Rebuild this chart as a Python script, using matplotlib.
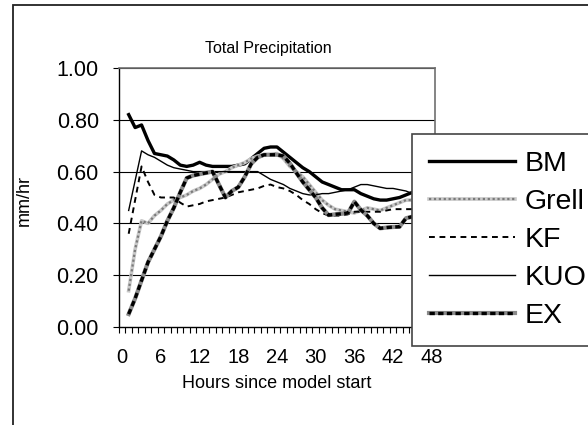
import numpy as np
import matplotlib
matplotlib.use('Agg')
import matplotlib.pyplot as plt
from matplotlib.patches import Rectangle
from matplotlib.legend_handler import HandlerTuple
from matplotlib.ticker import FixedLocator

plt.rcParams['font.family'] = ['Liberation Sans', 'DejaVu Sans']

# hourly model output, hours 1..48
hours = np.arange(1, 49)

bm = [0.82, 0.77, 0.78, 0.72, 0.67, 0.665, 0.66, 0.645, 0.625, 0.62,
      0.625, 0.636, 0.625, 0.62, 0.62, 0.62, 0.62, 0.625, 0.63, 0.65,
      0.67, 0.69, 0.695, 0.695, 0.675, 0.655, 0.635, 0.615, 0.60, 0.58,
      0.56, 0.55, 0.54, 0.53, 0.53, 0.53, 0.515, 0.505, 0.495, 0.49,
      0.49, 0.495, 0.50, 0.51, 0.52, 0.52, 0.52, 0.52]

grell = [0.14, 0.30, 0.41, 0.40, 0.43, 0.45, 0.475, 0.49, 0.50, 0.51,
         0.525, 0.535, 0.55, 0.57, 0.59, 0.60, 0.615, 0.625, 0.635, 0.65,
         0.66, 0.665, 0.665, 0.67, 0.65, 0.62, 0.60, 0.58, 0.55, 0.52,
         0.49, 0.47, 0.455, 0.45, 0.445, 0.44, 0.45, 0.46, 0.455, 0.45,
         0.46, 0.47, 0.48, 0.49, 0.49, 0.49, 0.49, 0.49]

kf = [0.36, 0.49, 0.62, 0.56, 0.51, 0.50, 0.50, 0.50, 0.48, 0.465,
      0.47, 0.475, 0.485, 0.49, 0.495, 0.50, 0.51, 0.52, 0.525, 0.53,
      0.535, 0.545, 0.55, 0.54, 0.535, 0.525, 0.51, 0.49, 0.475, 0.455,
      0.44, 0.43, 0.43, 0.43, 0.435, 0.445, 0.445, 0.445, 0.445, 0.445,
      0.45, 0.455, 0.455, 0.455, 0.455, 0.455, 0.455, 0.455]

kuo = [0.45, 0.565, 0.68, 0.665, 0.655, 0.64, 0.625, 0.615, 0.61, 0.605,
       0.60, 0.60, 0.60, 0.60, 0.60, 0.60, 0.60, 0.60, 0.60, 0.60,
       0.60, 0.585, 0.57, 0.56, 0.55, 0.535, 0.525, 0.515, 0.51, 0.51,
       0.515, 0.515, 0.52, 0.525, 0.53, 0.54, 0.55, 0.55, 0.545, 0.54,
       0.535, 0.535, 0.53, 0.525, 0.515, 0.51, 0.51, 0.51]

ex = [0.05, 0.11, 0.18, 0.25, 0.30, 0.35, 0.41, 0.46, 0.52, 0.575,
      0.585, 0.59, 0.595, 0.60, 0.55, 0.50, 0.525, 0.54, 0.58, 0.63,
      0.655, 0.665, 0.665, 0.665, 0.66, 0.632, 0.595, 0.56, 0.53, 0.50,
      0.46, 0.432, 0.435, 0.437, 0.44, 0.484, 0.452, 0.43, 0.40, 0.381,
      0.384, 0.386, 0.387, 0.42, 0.426, 0.426, 0.426, 0.426]

y_ticks = [0.0, 0.2, 0.4, 0.6, 0.8, 1.0]
x_ticks = [0, 6, 12, 18, 24, 30, 36, 42, 48]

fig = plt.figure(figsize=(5.88, 4.25), dpi=100)
ax = fig.add_axes([119 / 588, 98 / 425, 316 / 588, 259 / 425])

# chart border (runs off the right and bottom edges)
fig.patches.append(Rectangle((13 / 588, -0.1), 1.1, 1.1 - 5 / 425,
                             transform=fig.transFigure, fill=False,
                             edgecolor='#222222', linewidth=1.3, zorder=0))

for y in y_ticks[1:]:
    ax.axhline(y, color='black', linewidth=0.8, zorder=1)

kw = dict(solid_joinstyle='round', zorder=3)
l_bm, = ax.plot(hours, bm, color='black', linewidth=2.4, **kw)
g_base, = ax.plot(hours, grell, color='#c8c8c8', linewidth=2.6, **kw)
g_top, = ax.plot(hours, grell, color='#7a7a7a', linewidth=1.6,
                 dashes=(1, 1.2), zorder=3)
l_kf, = ax.plot(hours, kf, color='black', linewidth=1.4, dashes=(3, 2.4), zorder=3)
l_kuo, = ax.plot(hours, kuo, color='black', linewidth=1.0, **kw)
e_base, = ax.plot(hours, ex, color='#8a8a8a', linewidth=3.0, **kw)
e_top, = ax.plot(hours, ex, color='black', linewidth=2.4, dashes=(1.6, 1.0), zorder=3)

ax.set_xlim(-0.5, 48.5)
ax.set_ylim(0, 1.0)
ax.set_yticks(y_ticks)
ax.set_yticklabels([f'{v:.2f}' for v in y_ticks])
ax.set_xticks(x_ticks)
ax.xaxis.set_minor_locator(FixedLocator(np.arange(-0.5, 49, 1.0)))
ax.tick_params(axis='x', which='major', length=0, pad=15, labelsize=14.5)
ax.tick_params(axis='x', which='minor', length=4.5, width=0.8, direction='out')
ax.tick_params(axis='y', which='major', length=4.5, width=0.8, pad=10, labelsize=15.5)

for side in ['top', 'right']:
    ax.spines[side].set_color('#707070')
    ax.spines[side].set_linewidth(1.2)
ax.spines['left'].set_linewidth(1.0)
ax.spines['bottom'].set_linewidth(1.0)

ax.set_xlabel('Hours since model start', fontsize=13, labelpad=6)
fig.text(24 / 588, 1 - 200 / 425, 'mm/hr', fontsize=13, rotation=90,
         ha='center', va='center')
fig.text(268 / 588, 1 - 48 / 425, 'Total Precipitation', fontsize=11.5,
         ha='center', va='center')

leg = ax.legend([l_bm, (g_base, g_top), l_kf, l_kuo, (e_base, e_top)],
                ['BM', 'Grell', 'KF', 'KUO', 'EX'],
                handler_map={tuple: HandlerTuple(ndivide=1)},
                loc='upper left', bbox_to_anchor=(412 / 588, 1 - 138 / 425, 0.4, 0.01),
                bbox_transform=fig.transFigure, mode='expand',
                fontsize=20.5, handlelength=3.0, handletextpad=0.35,
                labelspacing=0.42, borderpad=0.6, borderaxespad=0,
                fancybox=False, framealpha=1, edgecolor='#444444')
leg.get_frame().set_linewidth(1.2)

fig.savefig('out.png', dpi=100)
